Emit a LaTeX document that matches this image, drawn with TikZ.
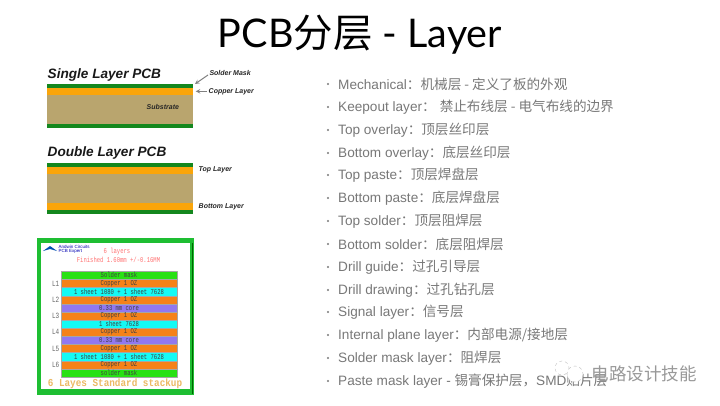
\documentclass[tikz,border=0pt]{standalone}
\usepackage{fontspec}
\setmainfont{Lato}
\setsansfont{Liberation Sans}
\setmonofont{Liberation Mono}
\newfontfamily\cjk{Noto Sans CJK SC}
\newfontfamily\rowfont[FakeStretch=0.75]{Liberation Mono}
\newfontfamily\stackfont[FakeStretch=0.88]{Liberation Mono}
\usetikzlibrary{positioning}
\definecolor{maskgreen}{RGB}{20,135,30}
\definecolor{cuorange}{RGB}{250,165,10}
\definecolor{subtan}{RGB}{185,165,110}
\definecolor{stackgreen}{RGB}{30,190,50}
\definecolor{rowgreen}{RGB}{40,225,20}
\definecolor{rowcu}{RGB}{245,130,25}
\definecolor{rowcyan}{RGB}{20,250,245}
\definecolor{rowcore}{RGB}{145,120,240}
\definecolor{bulletgray}{RGB}{120,120,120}
\definecolor{stacklabelcol}{RGB}{235,185,100}
\tikzset{
	layerlabel/.style={font=\sffamily\bfseries\itshape\fontsize{7}{8}\selectfont, text=black!85, anchor=west, inner sep=0pt},
	pcbtitle/.style={font=\sffamily\bfseries\itshape\fontsize{13.6}{15}\selectfont, text=black!90, anchor=west, inner sep=0pt},
	bulletitem/.style={font=\sffamily\fontsize{13.6}{15}\selectfont, text=bulletgray, anchor=west, inner sep=0pt},
	rowtext/.style={font=\rowfont\fontsize{7.4}{8}\selectfont, text=black!75, inner sep=0pt},
	leveltext/.style={font=\rowfont\fontsize{8}{9}\selectfont, text=black!60, inner sep=0pt},
	redtext/.style={font=\rowfont\fontsize{7.4}{8}\selectfont, text=red!55, inner sep=0pt},
}
\begin{document}
\begin{tikzpicture}[x=1pt, y=-1pt, line join=round, >=stealth]
	\useasboundingbox (0,0) rectangle (720,406);
	\fill[white] (0,0) rectangle (720,406);
	% Title
	\node[font=\fontsize{39.5}{44}\selectfont, text=black, inner sep=0pt] (title) at (360,35) {PCB{\cjk 分层} - Layer};
	% Single and double layer boards
	\def\xl{47.3}
	\def\xr{193.3}
	\foreach \ya/\yb/\c in {84.3/88.3/maskgreen, 88.3/95.3/cuorange, 95.3/124/subtan, 124/128/maskgreen,
		163.3/167/maskgreen, 167/174/cuorange, 174/203.3/subtan, 203.3/210/cuorange, 210/214/maskgreen}
	\fill[\c] (\xl,\ya) rectangle (\xr,\yb);
	\node[pcbtitle] (single) at (47.5,75) {Single Layer PCB};
	\node[pcbtitle] (double) at (47.5,152.7) {Double Layer PCB};
	\node[layerlabel] (mask) at (209.3,73) {Solder Mask};
	\node[layerlabel] (copper) at (208.5,91.3) {Copper Layer};
	\node[layerlabel] (substrate) at (146.5,107.3) {Substrate};
	\node[layerlabel] (toplayer) at (198.5,170) {Top Layer};
	\node[layerlabel] (botlayer) at (198.5,206.7) {Bottom Layer};
	\coordinate (maskstart) at (208,75);
	\coordinate (maskend) at (195,84);
	\coordinate (copperstart) at (206.7,91.3);
	\coordinate (copperend) at (195.7,91.3);
	\draw[->, gray, line width=1pt] (maskstart) -- (maskend);
	\draw[->, gray, line width=1pt] (copperstart) -- (copperend);
	% Stackup picture
	\fill[stackgreen] (36.7,238) rectangle (193.5,395);
	\fill[white] (40.5,243) rectangle (189.5,389);
	\draw[green!40!black, line width=0.8pt] (192.3,243) -- (192.3,394);
	\def\rowh{8.13}
	\foreach \i/\c/\t in {0/rowgreen/Solder mask, 1/rowcu/Copper 1 OZ, 2/rowcyan/1 sheet 1080 + 1 sheet 7628,
		3/rowcu/Copper 1 OZ, 4/rowcore/0.33 mm core, 5/rowcu/Copper 1 OZ, 6/rowcyan/1 sheet 7628,
		7/rowcu/Copper 1 OZ, 8/rowcore/0.33 mm core, 9/rowcu/Copper 1 OZ, 10/rowcyan/1 sheet 1080 + 1 sheet 7628,
		11/rowcu/Copper 1 OZ, 12/rowgreen/solder mask}
	\node[fill=\c, draw=black!35, line width=0.3pt, minimum width=116.6pt, minimum height=\rowh pt, inner sep=0pt, rowtext] (row\i) at (119,{271.3+\rowh*(\i+0.5)}) {\t};
	\foreach \n/\r in {1/1,2/3,3/5,4/7,5/9,6/11}
	\node[leveltext, left=1pt of row\r.west] (lvl\n) {L\n};
	\node[redtext] (layers) at (117,251.7) {6 layers};
	\node[redtext] (finished) at (118.5,260) {Finished 1.60mm +/-0.16MM};
	\node[font=\sffamily\fontsize{4.5}{4.8}\selectfont, text=blue!70!black, align=left, inner sep=0pt, anchor=west] (andwin) at (58.5,249.3) {Andwin Circuits\\PCB Expert};
	\fill[blue!55!cyan!70!black] (43,251) -- (50,246) -- (57,251) -- (50,249) -- cycle;
	\node[font=\stackfont\bfseries\fontsize{10.6}{12}\selectfont, text=stacklabelcol, inner sep=0pt] (stacklabel) at (115,384) {6 Layes Standard stackup};
	% Right hand list
	\foreach \y/\en/\zh in {
		84/{Mechanical}/{：机械层 - 定义了板的外观},
		107/{Keepout layer}/{：\hspace{0.3em}禁止布线层 - 电气布线的边界},
		130/{Top overlay}/{：顶层丝印层},
		153/{Bottom overlay}/{：底层丝印层},
		175/{Top paste}/{：顶层焊盘层},
		198/{Bottom paste}/{：底层焊盘层},
		221/{Top solder}/{：顶层阻焊层},
		244/{Bottom solder}/{：底层阻焊层},
		267/{Drill guide}/{：过孔引导层},
		290/{Drill drawing}/{：过孔钻孔层},
		312/{Signal layer}/{：信号层},
		335/{Internal plane layer}/{：内部电源/接地层},
		358/{Solder mask layer}/{：阻焊层},
		381/{Paste mask layer - }/{锡膏保护层，{\sffamily SMD}贴片层}}
	{
	\fill[bulletgray] (328,\y) circle (1.1pt);
	\node[bulletitem] at (338,\y) {\en{\cjk\fontsize{13.6}{15}\selectfont\zh}};
	}
	% Watermark
	\fill[white, draw=black!25, dashed] (562,368) circle (7);
	\fill[white, draw=black!25, dashed] (575,374) circle (8);
	\node[font=\cjk\fontsize{17.5}{20}\selectfont, text=black!40, inner sep=0pt, anchor=west] (mark) at (591.5,374) {电路设计技能};
\end{tikzpicture}
\end{document}
